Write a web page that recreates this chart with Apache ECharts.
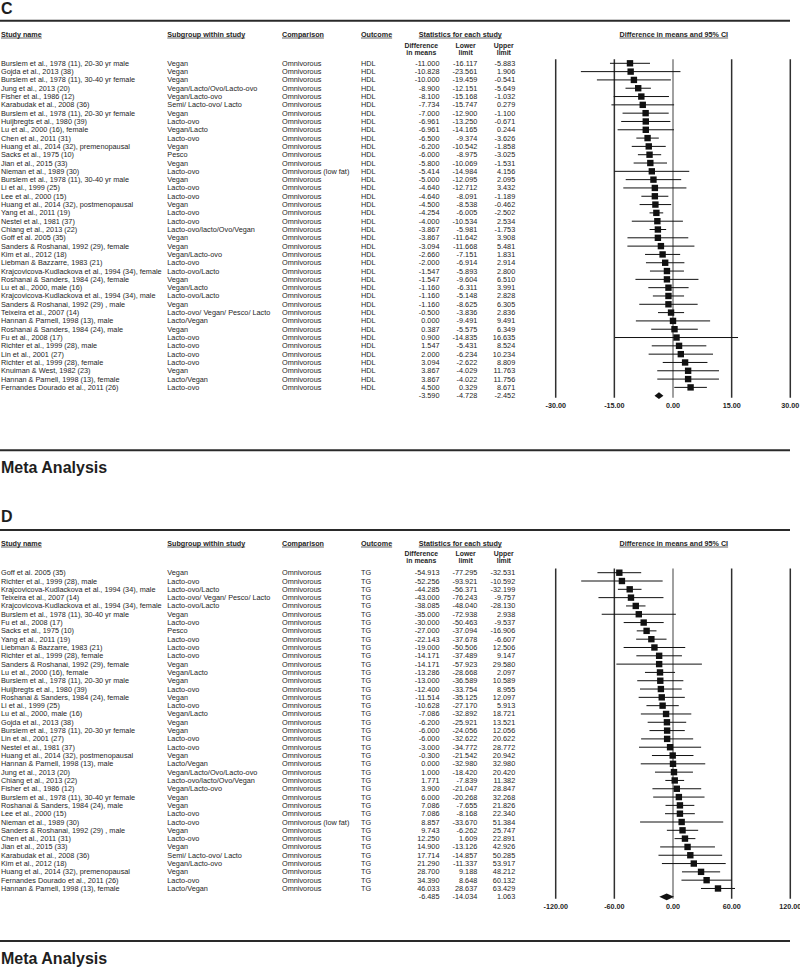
<!DOCTYPE html>
<html><head><meta charset="utf-8">
<script src="https://cdn.jsdelivr.net/npm/echarts@6/dist/echarts.min.js"></script>
<style>html,body{margin:0;padding:0;background:#fff}#chart{width:800px;height:978px}</style>
</head><body><div id="chart"></div>
<script>
// ---------- Panel C : HDL ----------
const hdlStudies = [
"Burslem et al., 1978 (11), 20-30 yr male","Gojda et al., 2013 (38)","Burslem et al., 1978 (11), 30-40 yr female",
"Jung et al., 2013 (20)","Fisher et al., 1986 (12)","Karabudak et al., 2008 (36)","Burslem et al., 1978 (11), 20-30 yr female",
"Huijbregts et al., 1980 (39)","Lu et al., 2000 (16), female","Chen et al., 2011 (31)","Huang et al., 2014 (32), premenopausal",
"Sacks et al., 1975 (10)","Jian et al., 2015 (33)","Nieman et al., 1989 (30)","Burslem et al., 1978 (11), 30-40 yr male",
"Li et al., 1999 (25)","Lee et al., 2000 (15)","Huang et al., 2014 (32), postmenopausal","Yang et al., 2011 (19)",
"Nestel et al., 1981 (37)","Chiang et al., 2013 (22)","Goff et al. 2005 (35)","Sanders & Roshanai, 1992 (29), female",
"Kim et al., 2012 (18)","Liebman & Bazzarre, 1983 (21)","Krajcovicova-Kudlackova et al., 1994 (34), female",
"Roshanai & Sanders, 1984 (24), female","Lu et al., 2000, male (16)","Krajcovicova-Kudlackova et al., 1994 (34), male",
"Sanders & Roshanai, 1992 (29) , male","Teixeira et al., 2007 (14)","Hannan & Parnell, 1998 (13), male",
"Roshanai & Sanders, 1984 (24), male","Fu et al., 2008 (17)","Richter et al., 1999 (28), male","Lin et al., 2001 (27)",
"Richter et al., 1999 (28), female","Knuiman & West, 1982 (23)","Hannan & Parnell, 1998 (13), female",
"Fernandes Dourado et al., 2011 (26)"];
const hdlSubgroups = ["Vegan","Vegan","Vegan","Vegan/Lacto/Ovo/Lacto-ovo","Vegan/Lacto-ovo","Semi/ Lacto-ovo/ Lacto","Vegan",
"Lacto-ovo","Vegan/Lacto","Lacto-ovo","Vegan","Pesco","Vegan","Lacto-ovo","Vegan","Lacto-ovo","Lacto-ovo","Vegan","Lacto-ovo",
"Lacto-ovo","Lacto-ovo/lacto/Ovo/Vegan","Vegan","Vegan","Vegan/Lacto-ovo","Lacto-ovo","Lacto-ovo/Lacto","Vegan","Vegan/Lacto",
"Lacto-ovo/Lacto","Vegan","Lacto-ovo/ Vegan/ Pesco/ Lacto","Lacto/Vegan","Vegan","Lacto-ovo","Lacto-ovo","Lacto-ovo","Lacto-ovo",
"Vegan","Lacto/Vegan","Lacto-ovo"];
const hdlComparisons = ["Omnivorous","Omnivorous","Omnivorous","Omnivorous","Omnivorous","Omnivorous","Omnivorous","Omnivorous",
"Omnivorous","Omnivorous","Omnivorous","Omnivorous","Omnivorous","Omnivorous (low fat)","Omnivorous","Omnivorous","Omnivorous",
"Omnivorous","Omnivorous","Omnivorous","Omnivorous","Omnivorous","Omnivorous","Omnivorous","Omnivorous","Omnivorous","Omnivorous",
"Omnivorous","Omnivorous","Omnivorous","Omnivorous","Omnivorous","Omnivorous","Omnivorous","Omnivorous","Omnivorous","Omnivorous",
"Omnivorous","Omnivorous","Omnivorous"];
const hdlMeans = [-11.000,-10.828,-10.000,-8.900,-8.100,-7.734,-7.000,-6.961,-6.961,-6.500,-6.200,-6.000,-5.800,-5.414,-5.000,
-4.640,-4.640,-4.500,-4.254,-4.000,-3.867,-3.867,-3.094,-2.660,-2.000,-1.547,-1.547,-1.160,-1.160,-1.160,-0.500,0.000,0.387,0.900,
1.547,2.000,3.094,3.867,3.867,4.500];
const hdlLower = [-16.117,-23.561,-19.459,-12.151,-15.168,-15.747,-12.900,-13.250,-14.165,-9.374,-10.542,-8.975,-10.069,-14.984,
-12.095,-12.712,-8.091,-8.538,-6.005,-10.534,-5.981,-11.642,-11.668,-7.151,-6.914,-5.893,-9.604,-6.311,-5.148,-8.625,-3.836,-9.491,
-5.575,-14.835,-5.431,-6.234,-2.622,-4.029,-4.022,0.329];
const hdlUpper = [-5.883,1.906,-0.541,-5.649,-1.032,0.279,-1.100,-0.671,0.244,-3.626,-1.858,-3.025,-1.531,4.156,2.095,3.432,
-1.189,-0.462,-2.502,2.534,-1.753,3.908,5.481,1.831,2.914,2.800,6.510,3.991,2.828,6.305,2.836,9.491,6.349,16.635,8.524,10.234,
8.809,11.763,11.756,8.671];
const hdlSummary = [-3.590,-4.728,-2.452];
const hdlTicks = [-30,-15,0,15,30];

// ---------- Panel D : TG ----------
const tgStudies = [
"Goff et al. 2005 (35)","Richter et al., 1999 (28), male","Krajcovicova-Kudlackova et al., 1994 (34), male",
"Teixeira et al., 2007 (14)","Krajcovicova-Kudlackova et al., 1994 (34), female","Burslem et al., 1978 (11), 30-40 yr male",
"Fu et al., 2008 (17)","Sacks et al., 1975 (10)","Yang et al., 2011 (19)","Liebman & Bazzarre, 1983 (21)",
"Richter et al., 1999 (28), female","Sanders & Roshanai, 1992 (29), female","Lu et al., 2000 (16), female",
"Burslem et al., 1978 (11), 20-30 yr male","Huijbregts et al., 1980 (39)","Roshanai & Sanders, 1984 (24), female",
"Li et al., 1999 (25)","Lu et al., 2000, male (16)","Gojda et al., 2013 (38)","Burslem et al., 1978 (11), 20-30 yr female",
"Lin et al., 2001 (27)","Nestel et al., 1981 (37)","Huang et al., 2014 (32), postmenopausal","Hannan & Parnell, 1998 (13), male",
"Jung et al., 2013 (20)","Chiang et al., 2013 (22)","Fisher et al., 1986 (12)","Burslem et al., 1978 (11), 30-40 yr female",
"Roshanai & Sanders, 1984 (24), male","Lee et al., 2000 (15)","Nieman et al., 1989 (30)","Sanders & Roshanai, 1992 (29) , male",
"Chen et al., 2011 (31)","Jian et al., 2015 (33)","Karabudak et al., 2008 (36)","Kim et al., 2012 (18)",
"Huang et al., 2014 (32), premenopausal","Fernandes Dourado et al., 2011 (26)","Hannan & Parnell, 1998 (13), female"];
const tgSubgroups = ["Vegan","Lacto-ovo","Lacto-ovo/Lacto","Lacto-ovo/ Vegan/ Pesco/ Lacto","Lacto-ovo/Lacto","Vegan","Lacto-ovo",
"Pesco","Lacto-ovo","Lacto-ovo","Lacto-ovo","Vegan","Vegan/Lacto","Vegan","Lacto-ovo","Vegan","Lacto-ovo","Vegan/Lacto","Vegan",
"Vegan","Lacto-ovo","Lacto-ovo","Vegan","Lacto/Vegan","Vegan/Lacto/Ovo/Lacto-ovo","Lacto-ovo/lacto/Ovo/Vegan","Vegan/Lacto-ovo",
"Vegan","Vegan","Lacto-ovo","Lacto-ovo","Vegan","Lacto-ovo","Vegan","Semi/ Lacto-ovo/ Lacto","Vegan/Lacto-ovo","Vegan","Lacto-ovo",
"Lacto/Vegan"];
const tgComparisons = ["Omnivorous","Omnivorous","Omnivorous","Omnivorous","Omnivorous","Omnivorous","Omnivorous","Omnivorous",
"Omnivorous","Omnivorous","Omnivorous","Omnivorous","Omnivorous","Omnivorous","Omnivorous","Omnivorous","Omnivorous","Omnivorous",
"Omnivorous","Omnivorous","Omnivorous","Omnivorous","Omnivorous","Omnivorous","Omnivorous","Omnivorous","Omnivorous","Omnivorous",
"Omnivorous","Omnivorous","Omnivorous (low fat)","Omnivorous","Omnivorous","Omnivorous","Omnivorous","Omnivorous","Omnivorous",
"Omnivorous","Omnivorous"];
const tgMeans = [-54.913,-52.256,-44.285,-43.000,-38.085,-35.000,-30.000,-27.000,-22.143,-19.000,-14.171,-14.171,-13.286,-13.000,
-12.400,-11.514,-10.628,-7.086,-6.200,-6.000,-6.000,-3.000,-0.300,0.000,1.000,1.771,3.900,6.000,7.086,7.086,8.857,9.743,12.250,
14.900,17.714,21.290,28.700,34.390,46.033];
const tgLower = [-77.295,-93.921,-56.371,-76.243,-48.040,-72.938,-50.463,-37.094,-37.678,-50.506,-37.489,-57.923,-28.668,-36.589,
-33.754,-35.125,-27.170,-32.892,-25.921,-24.056,-32.622,-34.772,-21.542,-32.980,-18.420,-7.839,-21.047,-20.268,-7.655,-8.168,
-33.670,-6.262,1.609,-13.126,-14.857,-11.337,9.188,8.648,28.637];
const tgUpper = [-32.531,-10.592,-32.199,-9.757,-28.130,2.938,-9.537,-16.906,-6.607,12.506,9.147,29.580,2.097,10.589,8.955,12.097,
5.913,18.721,13.521,12.056,20.622,28.772,20.942,32.980,20.420,11.382,28.847,32.268,21.826,22.340,51.384,25.747,22.891,42.926,
50.285,53.917,48.212,60.132,63.429];
const tgSummary = [-6.485,-14.034,1.063];
const tgTicks = [-120,-60,0,60,120];

// ---------- layout / style ----------
const FAMILY = '"Liberation Sans", Arial, sans-serif';
const ROW_FONT = 7.3, HEAD_FONT = 7.2, SUB_FONT = 6.9, BIG_FONT = 16;
const INK = '#1e1e1e';
const PITCH = 8.31;
const COLS = {study: 1, subgroup: 167.3, comparison: 282, outcome: 361, mean: 439.5, lower: 477.3, upper: 515.2};
const PLOT_LEFT = 555.7, PLOT_WIDTH = 234.6;

const panels = [
  {letter: 'C', outcome: 'HDL', studies: hdlStudies, subgroups: hdlSubgroups, comparisons: hdlComparisons,
   means: hdlMeans, lower: hdlLower, upper: hdlUpper, summary: hdlSummary, ticks: hdlTicks,
   letterY: 8.5, ruleY: 20.7, headY: 34.3, sub1Y: 45.5, sub2Y: 52.5, row1Y: 63.3, bottomRuleY: 450.3, metaY: 467.5},
  {letter: 'D', outcome: 'TG', studies: tgStudies, subgroups: tgSubgroups, comparisons: tgComparisons,
   means: tgMeans, lower: tgLower, upper: tgUpper, summary: tgSummary, ticks: tgTicks,
   letterY: 516, ruleY: 530, headY: 543.3, sub1Y: 553.8, sub2Y: 560.8, row1Y: 572.7, bottomRuleY: 941, metaY: 958}
];

const mctx = document.createElement('canvas').getContext('2d');
function textW(t, font) { mctx.font = font; return mctx.measureText(t).width; }
const headFont = 'bold ' + HEAD_FONT + 'px ' + FAMILY;
const subFont = 'bold ' + SUB_FONT + 'px ' + FAMILY;

const grid = [], xAxis = [], yAxis = [], series = [], graphic = [];

panels.forEach((p, k) => {
  const N = p.means.length + 1;
  const yMin = -0.5, yMax = N - 1 + 0.25;
  const top = p.row1Y - PITCH / 2;
  const height = (N - 0.25) * PITCH;
  grid.push({left: 0, top: top, width: 800, height: height, containLabel: false, outerBoundsMode: 'none'});
  grid.push({left: PLOT_LEFT, top: top, width: PLOT_WIDTH, height: height, containLabel: false, outerBoundsMode: 'none'});
  const gT = 2 * k, gP = 2 * k + 1;
  xAxis.push({gridIndex: gT, type: 'value', min: 0, max: 800, show: false});
  xAxis.push({gridIndex: gP, type: 'value', min: p.ticks[0], max: p.ticks[p.ticks.length - 1],
    interval: p.ticks[1] - p.ticks[0], position: 'bottom',
    axisLine: {show: false}, axisTick: {show: false},
    axisLabel: {formatter: v => v.toFixed(2), fontWeight: 'bold', fontSize: HEAD_FONT, color: INK,
      fontFamily: FAMILY, margin: 4, showMinLabel: true, showMaxLabel: true,
      alignMinLabel: 'center', alignMaxLabel: 'center', hideOverlap: false},
    splitLine: {show: false}});
  yAxis.push({gridIndex: gT, type: 'value', inverse: true, min: yMin, max: yMax, show: false});
  yAxis.push({gridIndex: gP, type: 'value', inverse: true, min: yMin, max: yMax, show: false});

  // table text
  const rows = [];
  for (let i = 0; i < N; i++) rows.push([i]);
  series.push({
    type: 'custom', xAxisIndex: gT, yAxisIndex: gT, data: rows, silent: true, clip: false,
    encode: {y: 0},
    renderItem: function (params, api) {
      const i = params.dataIndex;
      const row = api.value(0);
      const X = c => api.coord([c, row])[0];
      const y = api.coord([0, row])[1];
      const font = ROW_FONT + 'px ' + FAMILY;
      const t = (txt, x, align) => ({type: 'text', x: x, y: y,
        style: {text: txt, font: font, fill: INK, textAlign: align, textVerticalAlign: 'middle'}});
      const isSum = i === p.means.length;
      const m = isSum ? p.summary[0] : p.means[i];
      const lo = isSum ? p.summary[1] : p.lower[i];
      const up = isSum ? p.summary[2] : p.upper[i];
      const ch = [];
      if (!isSum) {
        ch.push(t(p.studies[i], X(COLS.study), 'left'));
        ch.push(t(p.subgroups[i], X(COLS.subgroup), 'left'));
        ch.push(t(p.comparisons[i], X(COLS.comparison), 'left'));
        ch.push(t(p.outcome, X(COLS.outcome), 'left'));
      }
      ch.push(t(m.toFixed(3), X(COLS.mean), 'right'));
      ch.push(t(lo.toFixed(3), X(COLS.lower), 'right'));
      ch.push(t(up.toFixed(3), X(COLS.upper), 'right'));
      return {type: 'group', children: ch};
    }
  });

  // vertical reference lines at each tick (zero line grey)
  series.push({
    type: 'custom', xAxisIndex: gP, yAxisIndex: gP, data: p.ticks.map(v => [v]), silent: true, clip: false, z: 1,
    encode: {x: 0},
    renderItem: function (params, api) {
      const v = api.value(0);
      const a = api.coord([v, yMin]), b = api.coord([v, yMax]);
      const zero = v === 0;
      return {type: 'line', shape: {x1: a[0], y1: a[1], x2: b[0], y2: b[1]},
        style: {stroke: zero ? '#a0a0a0' : '#303030', lineWidth: zero ? 2 : 1.5}};
    }
  });

  // forest marks
  const fdata = p.means.map((m, i) => [i, m, p.lower[i], p.upper[i], 0]);
  fdata.push([N - 1, p.summary[0], p.summary[1], p.summary[2], 1]);
  series.push({
    type: 'custom', xAxisIndex: gP, yAxisIndex: gP, data: fdata, silent: true, clip: false, z: 3,
    encode: {x: [1, 2, 3], y: 0},
    renderItem: function (params, api) {
      const row = api.value(0), m = api.value(1), lo = api.value(2), up = api.value(3), isSum = api.value(4);
      const c = api.coord([m, row]), l = api.coord([lo, row]), u = api.coord([up, row]);
      if (isSum) {
        return {type: 'polygon', shape: {points: [[l[0], c[1]], [c[0], c[1] - 3.4], [u[0], c[1]], [c[0], c[1] + 3.4]]},
          style: {fill: '#111'}};
      }
      return {type: 'group', children: [
        {type: 'line', shape: {x1: l[0], y1: c[1], x2: u[0], y2: c[1]}, style: {stroke: '#111', lineWidth: 1}},
        {type: 'rect', shape: {x: c[0] - 3.2, y: c[1] - 3.2, width: 6.4, height: 6.4}, style: {fill: '#111'}}
      ]};
    }
  });

  // header texts, rules, labels
  const bigFont = 'bold ' + BIG_FONT + 'px ' + FAMILY;
  graphic.push({type: 'text', x: 1, y: p.letterY, style: {text: p.letter, font: bigFont, fill: INK, textVerticalAlign: 'middle'}});
  graphic.push({type: 'line', shape: {x1: 0, y1: p.ruleY, x2: 790, y2: p.ruleY}, style: {stroke: '#2a2a2a', lineWidth: 2}});
  graphic.push({type: 'line', shape: {x1: 0, y1: p.bottomRuleY, x2: 790, y2: p.bottomRuleY}, style: {stroke: '#2a2a2a', lineWidth: 2}});
  graphic.push({type: 'text', x: 1, y: p.metaY, style: {text: 'Meta Analysis', font: bigFont, fill: INK, textVerticalAlign: 'middle'}});

  const heads = [
    ['Study name', COLS.study, 'left'], ['Subgroup within study', COLS.subgroup, 'left'],
    ['Comparison', COLS.comparison, 'left'], ['Outcome', COLS.outcome, 'left'],
    ['Statistics for each study', 460.3, 'center'], ['Difference in means and 95% CI', 673.8, 'center']
  ];
  heads.forEach(h => {
    graphic.push({type: 'text', x: h[1], y: p.headY,
      style: {text: h[0], font: headFont, fill: INK, textAlign: h[2], textVerticalAlign: 'middle'}});
    const w = textW(h[0], headFont);
    const x1 = h[2] === 'center' ? h[1] - w / 2 : h[1];
    graphic.push({type: 'line', shape: {x1: x1, y1: p.headY + 3.7, x2: x1 + w, y2: p.headY + 3.7},
      style: {stroke: INK, lineWidth: 0.7}});
  });
  const subs = [['Difference', 'in means', 421.3], ['Lower', 'limit', 465.6], ['Upper', 'limit', 503.8]];
  subs.forEach(s => {
    graphic.push({type: 'text', x: s[2], y: p.sub1Y, style: {text: s[0], font: subFont, fill: INK, textAlign: 'center', textVerticalAlign: 'middle'}});
    graphic.push({type: 'text', x: s[2], y: p.sub2Y, style: {text: s[1], font: subFont, fill: INK, textAlign: 'center', textVerticalAlign: 'middle'}});
  });
});

const chart = echarts.init(document.getElementById('chart'), null, {renderer: 'svg'});
chart.setOption({animation: false, backgroundColor: '#fff', grid, xAxis, yAxis, series, graphic});
</script></body></html>
